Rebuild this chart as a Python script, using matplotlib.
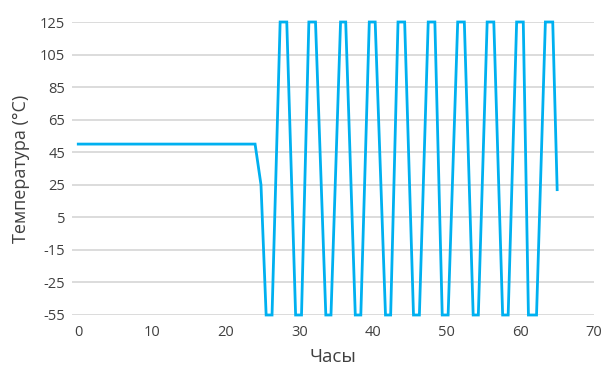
import numpy as np
import matplotlib
matplotlib.use("Agg")
import matplotlib.pyplot as plt

plt.rcParams['font.family'] = ['Open Sans', 'DejaVu Sans']

# Data
hours = [0, 24, 24.8, 25.5, 26.3, 27.4, 28.3, 29.5, 30.3, 31.3, 32.2,
         33.6, 34.3, 35.6, 36.3, 37.6, 38.35, 39.5, 40.3, 41.7, 42.4,
         43.4, 44.3, 45.5, 46.3, 47.5, 48.4, 49.4, 50.2, 51.5, 52.4,
         53.6, 54.3, 55.5, 56.4, 57.6, 58.35, 59.5, 60.4, 61.1, 62.2,
         63.4, 64.4, 65]
temps = [50, 50, 25, -55, -55, 125, 125, -55, -55, 125, 125,
         -55, -55, 125, 125, -55, -55, 125, 125, -55, -55,
         125, 125, -55, -55, 125, 125, -55, -55, 125, 125,
         -55, -55, 125, 125, -55, -55, 125, 125, -55, -55,
         125, 125, 22]

y_ticks = [-55, -25, -15, 5, 25, 45, 65, 85, 105, 125]
x_ticks = [0, 10, 20, 30, 40, 50, 60, 70]

idx = np.arange(len(y_ticks), dtype=float)

def fwd(v):
    return np.interp(v, y_ticks, idx)

def inv(p):
    return np.interp(p, idx, y_ticks)

fig = plt.figure(figsize=(6.07, 3.69), dpi=100)
ax = fig.add_axes([72/607, 1-315/369, (594-72)/607, (315-22)/369])
ax.set_yscale('function', functions=(fwd, inv))

ax.plot(hours, temps, color='#00B0F0', lw=2.0, clip_on=False, zorder=3,
        solid_joinstyle='miter')

ax.set_xlim(-0.85, 70)
ax.set_ylim(-55, 125)
ax.set_yticks(y_ticks)
ax.set_yticklabels([str(t) for t in y_ticks])
ax.set_xticks(x_ticks)
ax.yaxis.grid(True, color='#D9D9D9', lw=1.3)
ax.xaxis.grid(False)
for s in ax.spines.values():
    s.set_visible(False)
ax.tick_params(axis='both', length=0, labelsize=10.5, colors='#404040')
ax.tick_params(axis='y', pad=5)
ax.tick_params(axis='x', pad=7)
ax.set_xlabel('Часы', fontsize=13.5, color='#404040', labelpad=6)
ax.set_ylabel('Температура (°C)', fontsize=13, color='#404040', labelpad=7)

fig.savefig('out.png', dpi=100)
